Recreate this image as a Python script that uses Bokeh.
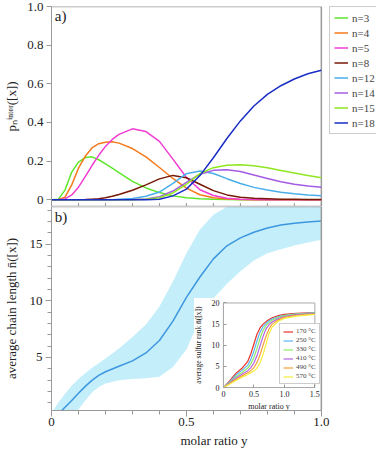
from bokeh.plotting import figure
from bokeh.models import (Range1d, LinearAxis, FixedTicker, Legend, LegendItem)
from bokeh.core.properties import value
from bokeh.layouts import column
from bokeh.embed import file_html
from bokeh.resources import INLINE

FONT = "Liberation Serif"
AX = "#999999"

# ---------------- data: panel a) ----------------
x_top = [0, 0.025, 0.05, 0.075, 0.1, 0.125, 0.15, 0.175, 0.2, 0.225, 0.25, 0.3, 0.35,
         0.4, 0.45, 0.5, 0.55, 0.6, 0.65, 0.7, 0.75, 0.8, 0.85, 0.9, 0.95, 1.0]
p_n3 = [0, 0.002, 0.05, 0.143, 0.195, 0.218, 0.222, 0.207, 0.186, 0.163, 0.14, 0.095, 0.061,
        0.037, 0.02, 0.01, 0.005, 0.002, 0.001, 0, 0, 0, 0, 0, 0, 0]
p_n4 = [0, 0, 0.013, 0.077, 0.163, 0.225, 0.268, 0.29, 0.298, 0.3, 0.293, 0.265, 0.222,
        0.167, 0.11, 0.06, 0.026, 0.01, 0.004, 0.001, 0, 0, 0, 0, 0, 0]
p_n5 = [0, 0, 0.004, 0.025, 0.065, 0.12, 0.177, 0.23, 0.276, 0.312, 0.338, 0.367, 0.353,
        0.302, 0.21, 0.115, 0.052, 0.022, 0.008, 0.003, 0.001, 0, 0, 0, 0, 0]
p_n8 = [0, 0, 0, 0, 0, 0.001, 0.003, 0.005, 0.01, 0.018, 0.027, 0.049, 0.077,
        0.108, 0.126, 0.114, 0.08, 0.047, 0.025, 0.013, 0.008, 0.005, 0.003, 0.002, 0.001, 0.001]
p_n12 = [0, 0, 0, 0, 0, 0, 0, 0, 0, 0, 0.002, 0.006, 0.018,
         0.04, 0.085, 0.135, 0.149, 0.136, 0.109, 0.084, 0.064, 0.05, 0.039, 0.031, 0.025, 0.021]
p_n14 = [0, 0, 0, 0, 0, 0, 0, 0, 0, 0, 0, 0.001, 0.004,
         0.016, 0.045, 0.09, 0.132, 0.152, 0.155, 0.146, 0.128, 0.11, 0.093, 0.08, 0.071, 0.064]
p_n15 = [0, 0, 0, 0, 0, 0, 0, 0, 0, 0, 0, 0, 0.002,
         0.01, 0.035, 0.08, 0.135, 0.166, 0.178, 0.181, 0.176, 0.165, 0.151, 0.138, 0.125, 0.114]
p_n18 = [0, 0, 0, 0, 0, 0, 0, 0, 0, 0, 0, 0, 0,
         0.002, 0.02, 0.055, 0.125, 0.217, 0.317, 0.408, 0.485, 0.545, 0.59, 0.625, 0.652, 0.67]
series_names = ["n=3", "n=4", "n=5", "n=8", "n=12", "n=14", "n=15", "n=18"]
series_vals = [p_n3, p_n4, p_n5, p_n8, p_n12, p_n14, p_n15, p_n18]
series_colors = ["#5ee62a", "#f47a1c", "#f03cd2", "#761a06", "#4aaeea", "#a45ce2", "#8ee61e", "#1a2ec4"]

# ---------------- data: panel b) ----------------
x_bot = [0, 0.025, 0.05, 0.075, 0.1, 0.125, 0.15, 0.175, 0.2, 0.25, 0.3, 0.35, 0.4,
         0.45, 0.5, 0.55, 0.6, 0.65, 0.7, 0.75, 0.8, 0.85, 0.9, 0.95, 1.0]
nbar = [-0.5, 0.0, 0.6, 1.2, 1.85, 2.45, 2.98, 3.42, 3.74, 4.22, 4.7, 5.4, 6.5,
        8.2, 10.3, 12.1, 13.7, 14.85, 15.55, 16.05, 16.42, 16.68, 16.85, 16.96, 17.03]
nbar_upper = [0.1, 1.0, 1.8, 2.5, 3.1, 3.6, 4.1, 4.5, 4.9, 5.8, 6.8, 7.9, 9.5,
              11.7, 14.2, 16.3, 17.6, 18.3, 18.8, 19.1, 19.3, 19.4, 19.5, 19.55, 19.6]
nbar_lower = [-2.0, -1.5, -0.9, -0.3, 0.4, 1.2, 1.9, 2.4, 2.7, 3.0, 3.1, 3.17, 3.3,
              4.15, 5.7, 8.4, 10.2, 11.5, 12.6, 13.55, 14.2, 14.55, 14.88, 15.15, 15.38]

# ---------------- data: inset ----------------
x_ins = [0, 0.1, 0.2, 0.3, 0.4, 0.45, 0.5, 0.55, 0.6, 0.65, 0.7, 0.75, 0.8, 0.9, 1.0, 1.2, 1.5]
t170 = [0, 1.5, 3.3, 4.5, 6.2, 8.0, 10.3, 12.6, 14.1, 15.0, 15.6, 16.1, 16.5, 17.0, 17.3, 17.55, 17.7]
t250 = [0, 1.3, 2.9, 4.0, 5.3, 6.7, 8.6, 11.0, 13.1, 14.4, 15.2, 15.8, 16.2, 16.8, 17.1, 17.45, 17.65]
t330 = [0, 1.1, 2.5, 3.5, 4.6, 5.6, 7.1, 9.2, 11.6, 13.5, 14.7, 15.4, 15.9, 16.6, 17.0, 17.35, 17.6]
t410 = [0, 1.0, 2.2, 3.1, 4.0, 4.7, 5.8, 7.5, 9.8, 12.1, 13.9, 14.9, 15.5, 16.3, 16.8, 17.25, 17.5]
t490 = [0, 0.9, 1.9, 2.7, 3.5, 4.0, 4.7, 5.9, 7.7, 10.0, 12.2, 13.9, 15.0, 16.0, 16.6, 17.1, 17.4]
t570 = [0, 0.8, 1.6, 2.4, 3.1, 3.5, 3.9, 4.6, 5.8, 7.8, 10.3, 12.8, 14.3, 15.7, 16.35, 16.9, 17.3]
temp_names = ["170 °C", "250 °C", "330 °C", "410 °C", "490 °C", "570 °C"]
temp_vals = [t170, t250, t330, t410, t490, t570]
temp_colors = ["#e8322a", "#5cb6f2", "#8ee86a", "#b464e4", "#f8a03c", "#f4ee3a"]

# ticks and tick labels
top_yticks = [0, 0.2, 0.4, 0.6, 0.8, 1.0]
top_ylabels = ["0", "0.2", "0.4", "0.6", "0.8", "1.0"]
x_major = [0, 0.5, 1.0]
x_labels = ["0", "0.5", "1.0"]
x_minor = [0, 0.1, 0.2, 0.3, 0.4, 0.5, 0.6, 0.7, 0.8, 0.9, 1.0]
bot_yticks = [5, 10, 15]
bot_yminor = list(range(1, 19))
ins_xticks = [0, 0.5, 1.0, 1.5]
ins_xlabels = ["0", "0.5", "1.0", "1.5"]
ins_yticks = [0, 5, 10, 15, 20]
panel_tags = ["a)", "b)"]

W = 376
LB, RB = 46, 56
H1, H2 = 206, 244
TOP1 = 6
frame_w = W - LB - RB            # pixel width of the x in [0, 1] region in both panels
XEXT = (W - LB) / frame_w        # both frames run past x = 1 (room for panel a's legend)


def style_axis(ax, size="13px"):
    ax.axis_line_color = AX
    ax.major_tick_line_color = AX
    ax.minor_tick_line_color = AX
    ax.major_label_text_font = FONT
    ax.major_label_text_font_size = size
    ax.major_label_text_color = "#222222"
    ax.axis_label_text_font = FONT
    ax.axis_label_text_font_style = "normal"
    ax.axis_label_text_color = "#222222"


# ================= panel a =================
YB1 = -0.035
p1 = figure(width=W, height=H1, x_range=Range1d(0, XEXT), y_range=Range1d(YB1, 1.0),
            output_backend="svg", toolbar_location=None,
            min_border_left=LB, min_border_right=0, min_border_top=TOP1, min_border_bottom=0)
p1.xgrid.visible = False
p1.ygrid.visible = False
p1.outline_line_color = None
p1.xaxis.visible = False
ya = p1.yaxis[0]
ya.ticker = FixedTicker(ticks=top_yticks, minor_ticks=[])
ya.major_label_overrides = dict(zip(top_yticks, top_ylabels))
style_axis(ya)
ya.major_tick_in, ya.major_tick_out = 0, 5
ya.major_label_standoff = 3
ya.axis_label = "pₙⁱⁿᵗᵉʳ([x])"
ya.axis_label_text_font_size = "13px"
ya.axis_label_standoff = 5

# frame edges of panel a (top, right, bottom) for the x in [0, 1] region
p1.segment(x0=[0, 1, 0], y0=[1.0, YB1, YB1], x1=[1, 1, 1], y1=[1.0, 1.0, YB1],
           line_color=AX, line_width=1.5)
tick_len = 0.018
p1.segment(x0=x_minor, y0=[YB1] * len(x_minor), x1=x_minor, y1=[YB1 + tick_len] * len(x_minor),
           line_color=AX, line_width=1)

items = []
for name, vals, col in zip(series_names, series_vals, series_colors):
    r = p1.line(x_top, vals, line_color=col, line_width=1.5, line_join="round")
    items.append(LegendItem(label=name, renderers=[r]))
frame_h1 = H1 - TOP1
leg_h = 8 * 13 + 7 * 2 + 2 * 4 + 2
leg = Legend(items=items, location=(frame_w + 4, frame_h1 - leg_h),
             label_text_font=FONT, label_text_font_size="11px",
             glyph_width=14, glyph_height=13, label_height=13, spacing=2, padding=4,
             label_standoff=4, margin=0, border_line_color=AX)
p1.add_layout(leg)
p1.text(x=[0.012], y=[0.99], text=[panel_tags[0]], text_font=value(FONT), text_font_size="15px",
        text_baseline="top", text_color="#222222")

# ================= panel b =================
Y0, Y1 = 0.32, 18.32
p2 = figure(width=W, height=H2, x_range=Range1d(0, XEXT), y_range=Range1d(Y0, Y1),
            output_backend="svg", toolbar_location=None,
            min_border_left=LB, min_border_right=0, min_border_top=0, min_border_bottom=0)
p2.xgrid.visible = False
p2.ygrid.visible = False
p2.outline_line_color = None
xb = p2.xaxis[0]
xb.bounds = (0, 1)
xb.ticker = FixedTicker(ticks=x_major, minor_ticks=x_minor)
xb.major_label_overrides = dict(zip(x_major, x_labels))
style_axis(xb)
xb.major_tick_in, xb.major_tick_out = 0, 6
xb.minor_tick_in, xb.minor_tick_out = 0, 4
xb.major_label_standoff = 1
xb.axis_label = "molar ratio y"
xb.axis_label_text_font_size = "13px"
xb.axis_label_standoff = 4
yb = p2.yaxis[0]
yb.ticker = FixedTicker(ticks=bot_yticks, minor_ticks=bot_yminor)
style_axis(yb)
yb.major_tick_in, yb.major_tick_out = 0, 6
yb.minor_tick_in, yb.minor_tick_out = 0, 4
yb.major_label_standoff = 3
yb.axis_label = "average chain length n\u0304([x])"
yb.axis_label_text_font_size = "13px"
yb.axis_label_standoff = 8

p2.varea(x=x_bot, y1=nbar_lower, y2=nbar_upper, fill_color="#c4eefa", fill_alpha=1.0)
p2.line(x_bot, nbar, line_color="#3d97e0", line_width=1.5, line_join="round")
p2.text(x=[0.012], y=[Y1 - 0.25], text=[panel_tags[1]], text_font=value(FONT), text_font_size="15px",
        text_baseline="top", text_color="#222222")

# ---------------- inset (placed via extra ranges, as fractions of the x in [0, 1] region) ----------------
IX = (0.0, 1.5)
IY = (0.0, 20.0)
fx0, fx1 = 0.637 / XEXT, 0.976 / XEXT
fy0, fy1 = 0.1125, 0.527
ux = (IX[1] - IX[0]) / (fx1 - fx0)
uy = (IY[1] - IY[0]) / (fy1 - fy0)
ix0 = IX[0] - fx0 * ux
iy0 = IY[0] - fy0 * uy
p2.extra_x_ranges = {"ix": Range1d(ix0, ix0 + ux)}
p2.extra_y_ranges = {"iy": Range1d(iy0, iy0 + uy)}

bg_l, bg_r, bg_b, bg_t = 0.528 / XEXT, 1.0 / XEXT, 0.0, 0.551
p2.quad(left=ix0 + bg_l * ux, right=ix0 + bg_r * ux, bottom=iy0 + bg_b * uy, top=iy0 + bg_t * uy,
        fill_color="white", line_color=None, x_range_name="ix", y_range_name="iy")
p2.quad(left=IX[0], right=IX[1], bottom=IY[0], top=IY[1], fill_alpha=0, line_color="#aaaaaa",
        line_width=1, x_range_name="ix", y_range_name="iy")

# frame edges of panel b (top, right) for the x in [0, 1] region
p2.segment(x0=[0, 1], y0=[Y1, Y0], x1=[1, 1], y1=[Y1, Y1], line_color=AX, line_width=1.5)

ins_items = []
for name, vals, col in zip(temp_names, temp_vals, temp_colors):
    r = p2.line(x_ins, vals, line_color=col, line_width=1.2, line_join="round",
                x_range_name="ix", y_range_name="iy")
    ins_items.append(LegendItem(label=name, renderers=[r]))

ixa = LinearAxis(x_range_name="ix", y_range_name="iy", fixed_location=IY[0], bounds=IX,
                 ticker=FixedTicker(ticks=ins_xticks, minor_ticks=[]))
ixa.major_label_overrides = dict(zip(ins_xticks, ins_xlabels))
style_axis(ixa, "8px")
ixa.axis_line_color = "#aaaaaa"
ixa.major_tick_in, ixa.major_tick_out = 3, 0
ixa.major_label_standoff = 3
ixa.axis_label = "molar ratio y"
ixa.axis_label_text_font_size = "8px"
ixa.axis_label_standoff = 2
p2.add_layout(ixa, "below")

iya = LinearAxis(x_range_name="ix", y_range_name="iy", fixed_location=IX[0], bounds=IY,
                 ticker=FixedTicker(ticks=ins_yticks, minor_ticks=[]))
style_axis(iya, "8px")
iya.axis_line_color = "#aaaaaa"
iya.major_tick_in, iya.major_tick_out = 3, 0
iya.major_label_standoff = 4
iya.axis_label = "average sulfur rank n\u0304([x])"
iya.axis_label_text_font_size = "7.5px"
iya.axis_label_standoff = 6
p2.add_layout(iya, "left")

leg2 = Legend(items=ins_items, location=(228, 26),
              label_text_font=FONT, label_text_font_size="7px",
              glyph_width=10, glyph_height=7, label_height=7, spacing=1, padding=3,
              label_standoff=3, margin=0, border_line_color=AX)
p2.add_layout(leg2)

layout = column(p1, p2)
open("out.html", "w").write(file_html(layout, INLINE))
